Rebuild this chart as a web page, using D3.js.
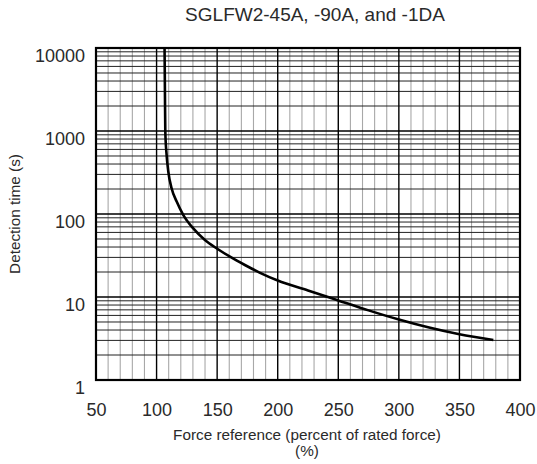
<!DOCTYPE html>
<html>
<head>
<meta charset="utf-8">
<script src="https://cdn.jsdelivr.net/npm/d3@7"></script>
<style>
  html, body { margin: 0; padding: 0; background: #fff; }
  svg { display: block; }
  text { font-family: "Liberation Sans", Arial, Helvetica, sans-serif; fill: #2a2a2a; }
</style>
</head>
<body>
<svg id="chart" width="537" height="464"></svg>
<script>
// ---- data ----
const titleText = "SGLFW2-45A, -90A, and -1DA";
const xTitle1 = "Force reference (percent of rated force)";
const xTitle2 = "(%)";
const yTitle = "Detection time (s)";

const xTickValues = [50, 100, 150, 200, 250, 300, 350, 400];
const yTickValues = [1, 10, 100, 1000, 10000];

const forcePct   = [106.6, 106.9, 107.2, 108.3, 109.7, 112.4, 116.6, 122.1, 130.3, 139.9, 150.4, 160.6, 172.9, 185, 200, 225, 250, 275, 300, 325, 350, 378];
const detectTime = [10000, 3000, 1000, 513, 323, 204, 141, 97, 67, 48.6, 37.9, 30.6, 24.3, 19.7, 15.8, 12.0, 9.1, 6.9, 5.35, 4.28, 3.55, 3.03];

// ---- layout ----
const svg = d3.select("#chart");
const plotL = 96, plotR = 520, plotT = 48, plotB = 380;

const x = d3.scaleLinear().domain([50, 400]).range([plotL, plotR]);
const y = d3.scaleLog().domain([1, 10000]).range([plotB, plotT]);

const g = svg.append("g");

// vertical minor grid (every 10)
const xMinor = d3.range(60, 400, 10).filter(v => v % 50 !== 0);
g.selectAll("line.vminor").data(xMinor).enter().append("line")
  .attr("x1", d => x(d)).attr("x2", d => x(d))
  .attr("y1", plotT).attr("y2", plotB)
  .attr("stroke", "#a8a8a8").attr("stroke-width", 1.1);

// horizontal minor grid (2..9 each decade)
const yMinor = [];
[1, 10, 100, 1000].forEach(d => { for (let k = 2; k <= 9; k++) yMinor.push(d * k); });
g.selectAll("line.hminor").data(yMinor).enter().append("line")
  .attr("x1", plotL).attr("x2", plotR)
  .attr("y1", d => y(d)).attr("y2", d => y(d))
  .attr("stroke", "#222").attr("stroke-width", 1);

// major vertical grid
const xMajor = xTickValues.filter(v => v > 50 && v < 400);
g.selectAll("line.vmajor").data(xMajor).enter().append("line")
  .attr("x1", d => x(d)).attr("x2", d => x(d))
  .attr("y1", plotT).attr("y2", plotB)
  .attr("stroke", "#000").attr("stroke-width", 1.4);

// major horizontal grid
const yMajor = yTickValues.filter(v => v > 1 && v < 10000);
g.selectAll("line.hmajor").data(yMajor).enter().append("line")
  .attr("x1", plotL).attr("x2", plotR)
  .attr("y1", d => y(d)).attr("y2", d => y(d))
  .attr("stroke", "#000").attr("stroke-width", 1.3);

// curve
const pts = forcePct.map((f, i) => [f, detectTime[i]]);
const line = d3.line().x(d => x(d[0])).y(d => y(d[1])).curve(d3.curveMonotoneX);
g.append("path").datum(pts)
  .attr("d", line)
  .attr("fill", "none").attr("stroke", "#000").attr("stroke-width", 2.6)
  .attr("stroke-linecap", "butt");

// frame
g.append("rect").attr("x", plotL).attr("y", plotT)
  .attr("width", plotR - plotL).attr("height", plotB - plotT)
  .attr("fill", "none").attr("stroke", "#000").attr("stroke-width", 2.2);

// axes (labels only)
const xAxis = d3.axisBottom(x).tickValues(xTickValues).tickSize(0).tickFormat(d3.format("d"));
const xg = svg.append("g").attr("transform", `translate(0,${plotB})`).call(xAxis);
xg.select(".domain").remove();
xg.selectAll("text").attr("y", 36).attr("dy", 0)
  .style("font-size", "18px").style("font-family", "'Liberation Sans', Arial, sans-serif").attr("fill", "#2a2a2a");

const yAxis = d3.axisLeft(y).tickValues(yTickValues).tickSize(0).tickFormat(d3.format("d"));
const yg = svg.append("g").attr("transform", `translate(${plotL},0)`).call(yAxis);
yg.select(".domain").remove();
yg.selectAll("text").attr("x", -11).attr("dy", "0.85em").attr("y", -1.5)
  .style("font-size", "18px").style("font-family", "'Liberation Sans', Arial, sans-serif").attr("fill", "#2a2a2a");

// titles
svg.append("text").attr("x", 315).attr("y", 21).attr("text-anchor", "middle")
  .style("font-size", "19px").text(titleText);

svg.append("text").attr("x", 307).attr("y", 440).attr("text-anchor", "middle")
  .style("font-size", "15.3px").text(xTitle1);
svg.append("text").attr("x", 307).attr("y", 456).attr("text-anchor", "middle")
  .style("font-size", "15.3px").text(xTitle2);

svg.append("text").attr("transform", "translate(20,214) rotate(-90)")
  .attr("text-anchor", "middle").style("font-size", "15.3px").text(yTitle);
</script>
</body>
</html>
